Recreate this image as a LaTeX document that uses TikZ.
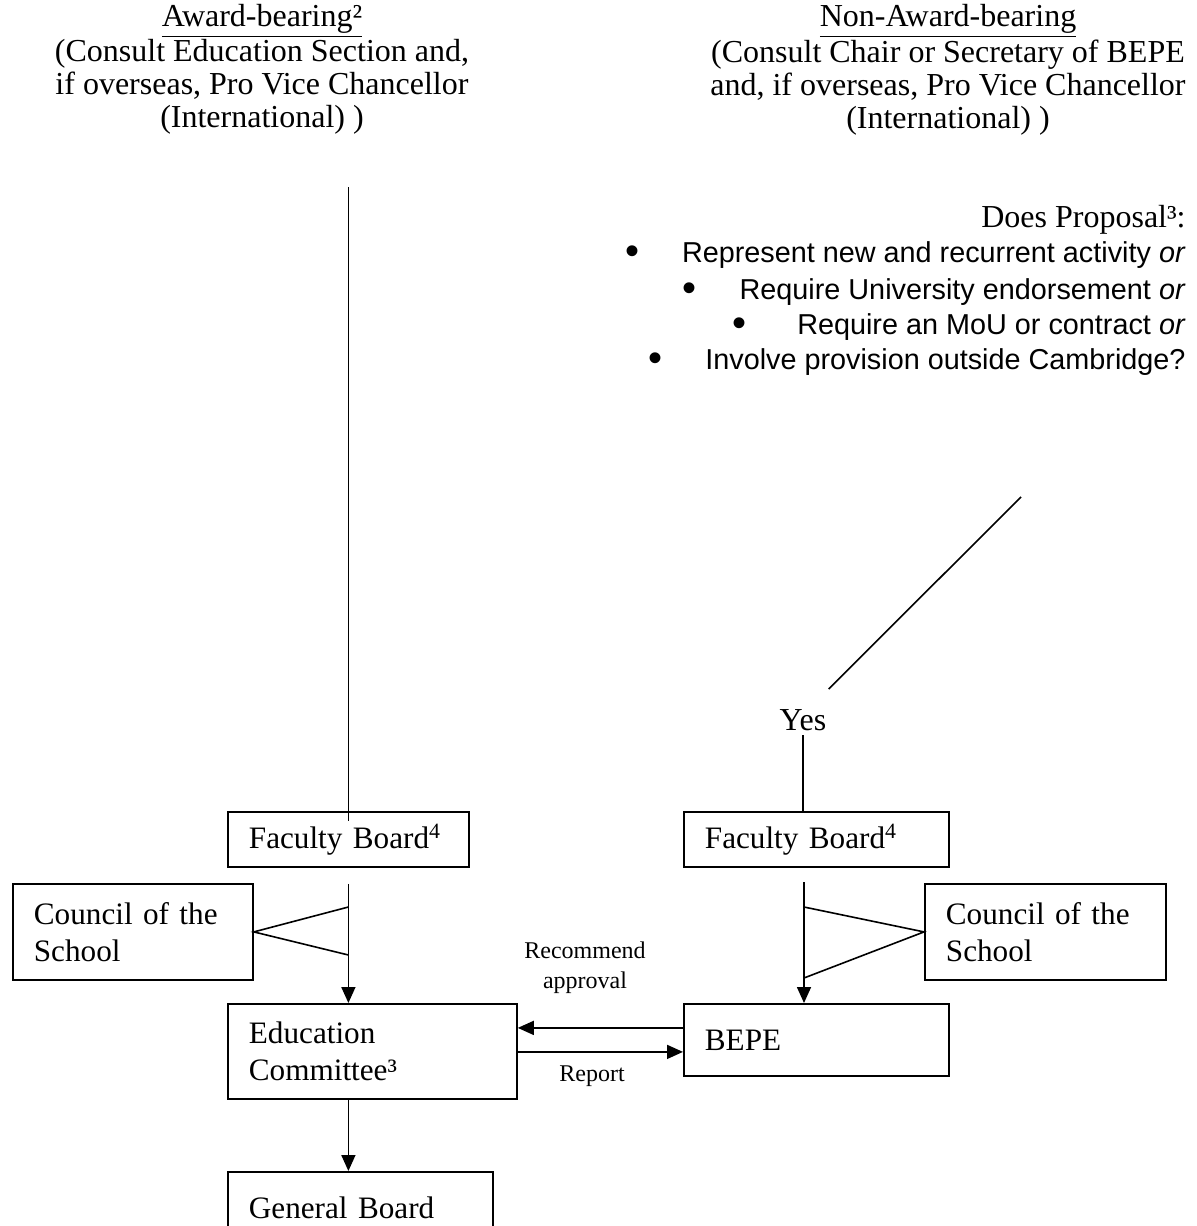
\documentclass[tikz,border=0pt]{standalone}
\usepackage{fontspec}
\setmainfont{Liberation Serif}
\newfontfamily\arialfont{Liberation Sans}
\usetikzlibrary{arrows.meta,positioning}

\begin{document}
\begin{tikzpicture}[
		x=0.5pt, y=-0.5pt,
		box/.style={draw, line width=0.9pt, anchor=north west, align=left, inner xsep=10.5pt, inner ysep=0pt, font=\fontsize{15.6}{18.4}\selectfont},
		head/.style={align=center, anchor=north, inner sep=0pt, font=\fontsize{16}{16.5}\selectfont},
		item/.style={anchor=east, inner sep=0pt, font=\arialfont\fontsize{14.4}{16}\selectfont},
		dot/.style={inner sep=0pt, font=\arialfont\fontsize{20}{20}\selectfont},
		lbl/.style={align=center, inner sep=0pt, font=\fontsize{12}{15}\selectfont},
		link/.style={line width=0.8pt},
		arr/.style={line width=0.8pt, -{Triangle[length=8pt,width=7pt]}},
	]
		\useasboundingbox (0,0) rectangle (1197,1226);
		
		\node (awd) [head] at (262,4) {\underline{Award-bearing²}\\(Consult Education Section and,\\if overseas, Pro Vice Chancellor\\(International) )};
		\node (nab) [head] at (948,4) {\underline{Non-Award-bearing}\\(Consult Chair or Secretary of BEPE\\and, if overseas, Pro Vice Chancellor\\(International) )};
		
		\node (prop) [anchor=east, inner sep=0pt, font=\fontsize{16}{18}\selectfont] at (1186,220) {Does Proposal³:};
		\node (q1) [item] at (1186,255) {Represent new and recurrent activity \textit{or}};
		\node (q2) [item] at (1186,292) {Require University endorsement \textit{or}};
		\node (q3) [item] at (1186,327) {Require an MoU or contract \textit{or}};
		\node (q4) [item] at (1186,362) {Involve provision outside Cambridge?};
		\node (d1) [dot, left=21pt of q1] {•};
		\node (d2) [dot, left=21pt of q2] {•};
		\node (d3) [dot, left=25pt of q3] {•};
		\node (d4) [dot, left=21pt of q4] {•};
		
		\node (yes) [inner sep=2pt, font=\fontsize{16}{18}\selectfont] at (803,720) {Yes};
		
		\node (fbL) [box, text width=99.5pt, minimum height=27.5pt] at (227,811) {Faculty Board\textsuperscript{4}};
		\node (fbR) [box, text width=111.5pt, minimum height=27.5pt] at (683,811) {Faculty Board\textsuperscript{4}};
		\node (cosL) [box, text width=99pt, minimum height=48pt] at (12,883) {Council of the\\School};
		\node (cosR) [box, text width=99.5pt, minimum height=48pt] at (924,883) {Council of the\\School};
		\node (edu) [box, text width=123.5pt, minimum height=47.5pt] at (227,1003) {Education\\Committee³};
		\node (bepe) [box, text width=111.5pt, minimum height=36pt] at (683,1003) {BEPE};
		\node (gen) [box, text width=111.5pt, minimum height=36pt] at (227,1171) {General Board};
		
		\node (rec) [lbl] at (585,968) {Recommend\\approval};
		\node (rep) [lbl] at (592,1076) {Report};
		
		\coordinate (awdend) at (347,187);
		\coordinate (nabend) at (1021,497);
		\coordinate (tlA) at (347,907);
		\coordinate (tlB) at (347,955);
		\coordinate (trA) at (804,907);
		\coordinate (trB) at (804,978);
		\coordinate (rtop) at (804,882);
		
		\draw[link] (fbL.north |- awdend) -- ([yshift=-5pt]fbL.north);
		\draw[link] (nabend) -- ([xshift=-1pt,yshift=8pt]yes.north east);
		\draw[link] (yes.south) -- (yes.south |- fbR.north);
		
		\draw[arr] ([yshift=-8pt]fbL.south) -- (fbL.south |- edu.north);
		\draw[link] (fbL.south |- tlA) -- (cosL.east) -- (fbL.south |- tlB);
		\draw[arr] (rtop) -- (rtop |- bepe.north);
		\draw[link] (trA) -- (cosR.west) -- (trB);
		
		\draw[arr] ([yshift=6pt]bepe.west) -- ([yshift=6pt]bepe.west -| edu.east);
		\draw[arr] ([yshift=-6pt]bepe.west -| edu.east) -- ([yshift=-6pt]bepe.west);
		\draw[arr] (fbL.south |- edu.south) -- (fbL.south |- gen.north);
	\end{tikzpicture}
\end{document}
